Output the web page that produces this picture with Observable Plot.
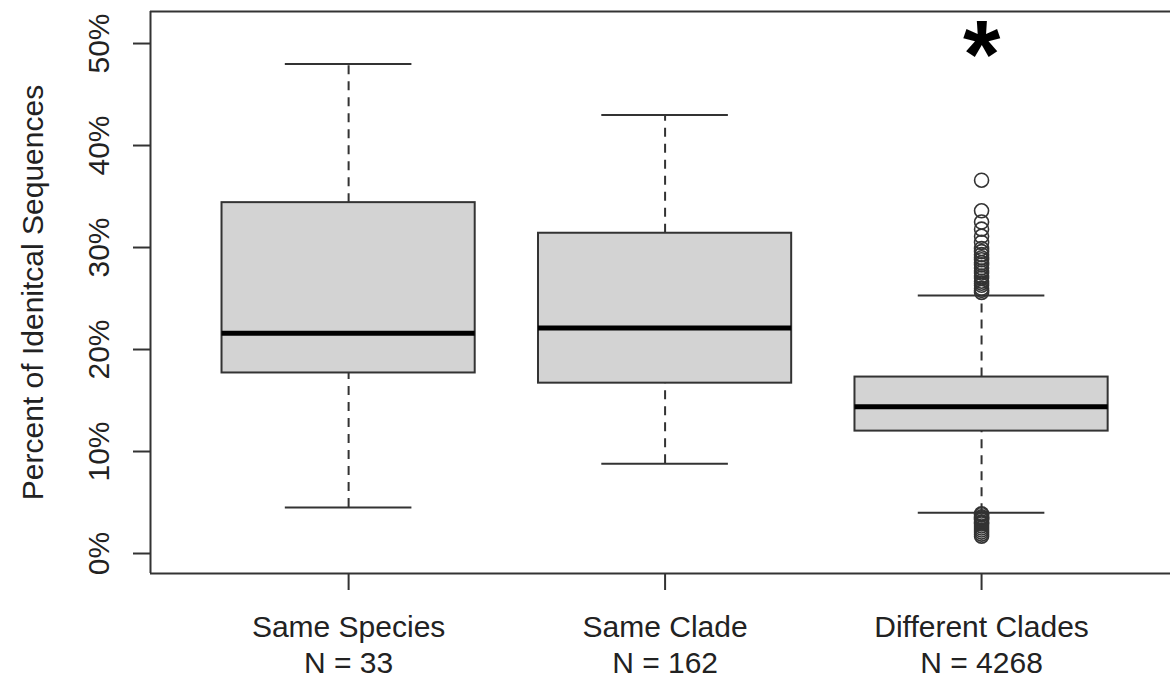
<!DOCTYPE html>
<html>
<head>
<meta charset="utf-8">
<script src="https://cdn.jsdelivr.net/npm/d3@7"></script>
<script src="https://cdn.jsdelivr.net/npm/@observablehq/plot@0.6"></script>
<style>
  html, body { margin: 0; padding: 0; background: #fff; overflow: hidden; }
  #chart svg { display: block; }
</style>
</head>
<body>
<div id="chart"></div>
<script>
// ---- data ----
const groups = ["Same Species", "Same Clade", "Different Clades"];
const nCounts = [33, 162, 4268];
const lowerWhisker = [4.5, 8.8, 4.0];
const q1 = [17.7, 16.7, 12.0];
const median = [21.6, 22.1, 14.4];
const q3 = [34.4, 31.4, 17.3];
const upperWhisker = [48.0, 43.0, 25.3];
const outlierGroupIndex = 2; // "Different Clades"
const outlierValues = [
  36.6, 33.6, 32.5, 31.8, 31.1, 30.5, 29.9, 29.6, 29.3, 29.0, 28.8, 28.5,
  28.3, 28.0, 27.7, 27.5, 27.2, 27.0, 26.7, 26.5, 26.3, 26.0, 25.8, 25.6,
  3.9, 3.8, 3.6, 3.5, 3.4, 3.3, 3.1, 3.0, 2.9, 2.7, 2.5, 2.3, 2.1, 1.9, 1.7
];
const yTicks = [0, 10, 20, 30, 40, 50];
const yTitle = "Percent of Idenitcal Sequences";
const significanceMark = {groupIndex: 2, y: 48.8, text: "*"};

// scale domains (R-style plotting region; the right edge is cropped off)
const xDomain = [0.374, 3.597];
const yDomain = [-1.96, 53.14];
const boxHalf = 0.4;    // boxwex 0.8
const capHalf = 0.2;    // staplewex 0.5

// ---- build table ----
const stats = groups.map((g, i) => ({
  pos: i + 1, group: g, n: nCounts[i], lo: lowerWhisker[i], q1: q1[i], med: median[i], q3: q3[i], hi: upperWhisker[i]
}));
const outliers = outlierValues.map(v => ({pos: outlierGroupIndex + 1, value: v}));
const tickLabel = p => `${groups[p - 1]}\nN = ${nCounts[p - 1]}`;

const font = "'Liberation Sans', Arial, Helvetica, sans-serif";
const ink = "#333";
const fs = 30;

const chart = Plot.plot({
  width: 1170,
  height: 679,
  marginLeft: 150,
  marginRight: 0,
  marginTop: 11,
  marginBottom: 106,
  style: {fontFamily: font, fontSize: fs + "px", background: "#fff", color: "#222"},
  x: {domain: xDomain, axis: null},
  y: {domain: yDomain, axis: null},
  marks: [
    // whiskers (dashed)
    Plot.ruleX(stats, {x: "pos", y1: "q3", y2: "hi", stroke: ink, strokeWidth: 2, strokeDasharray: "9,7"}),
    Plot.ruleX(stats, {x: "pos", y1: "lo", y2: "q1", stroke: ink, strokeWidth: 2, strokeDasharray: "9,7"}),
    // whisker caps
    Plot.ruleY(stats, {y: "hi", x1: d => d.pos - capHalf, x2: d => d.pos + capHalf, stroke: ink, strokeWidth: 2}),
    Plot.ruleY(stats, {y: "lo", x1: d => d.pos - capHalf, x2: d => d.pos + capHalf, stroke: ink, strokeWidth: 2}),
    // boxes
    Plot.rect(stats, {x1: d => d.pos - boxHalf, x2: d => d.pos + boxHalf, y1: "q1", y2: "q3", fill: "#d3d3d3", stroke: ink, strokeWidth: 2}),
    // medians
    Plot.ruleY(stats, {y: "med", x1: d => d.pos - boxHalf, x2: d => d.pos + boxHalf, stroke: "#000", strokeWidth: 5}),
    // outliers
    Plot.dot(outliers, {x: "pos", y: "value", r: 7, stroke: ink, strokeWidth: 1.6, fill: "none"}),
    // significance asterisk
    Plot.text([significanceMark], {x: d => d.groupIndex + 1, y: "y", text: "text", fontSize: 96, fontWeight: "bold", fill: "#000", lineAnchor: "middle"}),
    // plot box: left, bottom, top (right edge is cropped in the reference)
    Plot.ruleX([xDomain[0]], {stroke: ink, strokeWidth: 2}),
    Plot.ruleY(yDomain, {stroke: ink, strokeWidth: 2}),
    // axes
    Plot.axisY({ticks: yTicks, tickSize: 17, tickPadding: 25, tickRotate: -90, tickFormat: d => d + "%", label: null, stroke: ink, strokeWidth: 2, fontSize: fs, fill: "#222"}),
    Plot.axisX({ticks: stats.map(d => d.pos), tickSize: 17, tickPadding: 22, tickFormat: tickLabel, lineHeight: 1.17, label: null, stroke: ink, strokeWidth: 2, fontSize: fs, fill: "#222"}),
    // y title
    Plot.text([yTitle], {frameAnchor: "left", dx: -108, rotate: -90, textAnchor: "middle", lineAnchor: "bottom", text: d => d, fontSize: fs, fill: "#222"})
  ]
});
document.getElementById("chart").appendChild(chart);
</script>
</body>
</html>
